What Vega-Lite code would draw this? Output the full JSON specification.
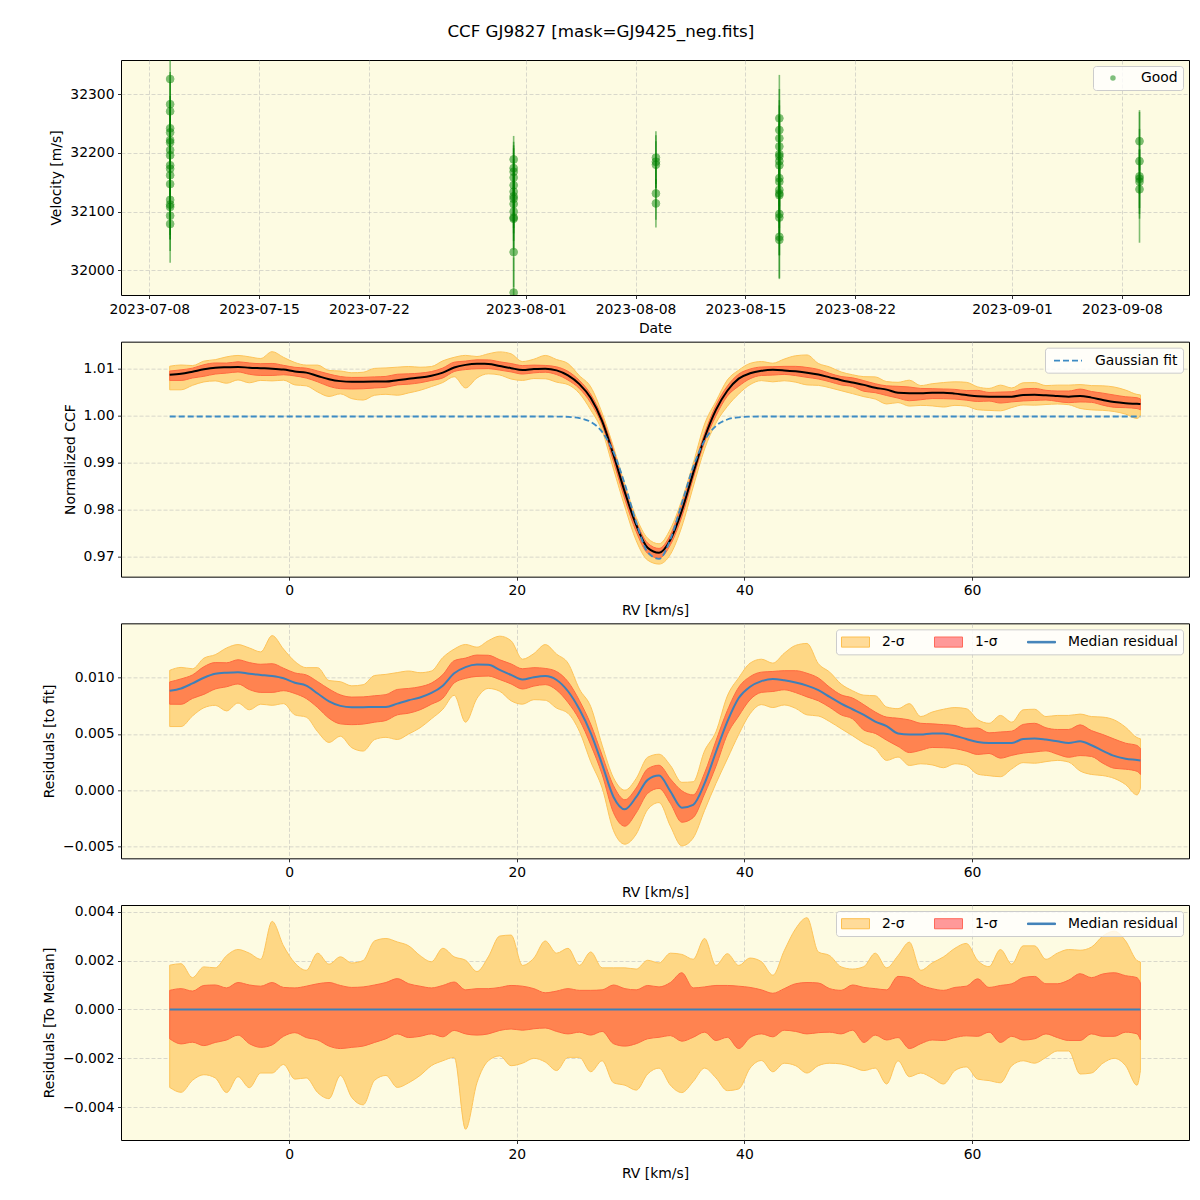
{
"$schema": "https://vega.github.io/schema/vega-lite/v6.json",
"padding": {"left": 42, "top": 23, "right": 12, "bottom": 10},
"background": "white",
"title": {"text": "CCF GJ9827 [mask=GJ9425_neg.fits]", "fontSize": 16.7, "font": "DejaVu Sans", "fontWeight": "normal", "offset": 19, "anchor": "middle", "color": "black", "dx": -15},
"config": {
  "font": "DejaVu Sans",
  "view": {"stroke": "black", "strokeWidth": 1, "fill": "#FDFBE2"},
  "axis": {"labelFont": "DejaVu Sans", "labelFontSize": 13.9, "labelColor": "black", "titleFont": "DejaVu Sans", "titleFontSize": 13.9, "titleFontWeight": "normal", "titleColor": "black", "tickColor": "black", "tickSize": 3.5, "tickWidth": 0.8, "labelPadding": 3.5, "titlePadding": 6, "domain": false, "grid": true, "gridColor": "#b0b0b0", "gridOpacity": 0.6, "gridDash": [4, 2], "gridWidth": 0.8, "zindex": 1, "labelFlush": false, "labelOverlap": false},
  "legend": {"labelFont": "DejaVu Sans", "labelFontSize": 13.9, "labelColor": "black", "fillColor": "rgba(255,255,255,0.8)", "strokeColor": "#cccccc", "cornerRadius": 3, "padding": 5, "orient": "top-right", "offset": 6}
},
"datasets": {
"rvs": [
{"date":"2023-07-09T08:00:00Z","vel":32326,"lo":32276,"hi":32376},
{"date":"2023-07-09T08:00:00Z","vel":32283,"lo":32228,"hi":32338},
{"date":"2023-07-09T08:00:00Z","vel":32271,"lo":32221,"hi":32321},
{"date":"2023-07-09T08:00:00Z","vel":32242,"lo":32187,"hi":32297},
{"date":"2023-07-09T08:00:00Z","vel":32235,"lo":32180,"hi":32290},
{"date":"2023-07-09T08:00:00Z","vel":32222,"lo":32162,"hi":32282},
{"date":"2023-07-09T08:00:00Z","vel":32218,"lo":32163,"hi":32273},
{"date":"2023-07-09T08:00:00Z","vel":32205,"lo":32145,"hi":32265},
{"date":"2023-07-09T08:00:00Z","vel":32196,"lo":32141,"hi":32251},
{"date":"2023-07-09T08:00:00Z","vel":32179,"lo":32119,"hi":32239},
{"date":"2023-07-09T08:00:00Z","vel":32173,"lo":32118,"hi":32228},
{"date":"2023-07-09T08:00:00Z","vel":32162,"lo":32102,"hi":32222},
{"date":"2023-07-09T08:00:00Z","vel":32147,"lo":32092,"hi":32202},
{"date":"2023-07-09T08:00:00Z","vel":32120,"lo":32060,"hi":32180},
{"date":"2023-07-09T08:00:00Z","vel":32112,"lo":32052,"hi":32172},
{"date":"2023-07-09T08:00:00Z","vel":32108,"lo":32053,"hi":32163},
{"date":"2023-07-09T08:00:00Z","vel":32093,"lo":32033,"hi":32153},
{"date":"2023-07-09T08:00:00Z","vel":32079,"lo":32013,"hi":32145},
{"date":"2023-07-31T05:30:00Z","vel":32189,"lo":32149,"hi":32229},
{"date":"2023-07-31T05:30:00Z","vel":32174,"lo":32129,"hi":32219},
{"date":"2023-07-31T05:30:00Z","vel":32168,"lo":32123,"hi":32213},
{"date":"2023-07-31T05:30:00Z","vel":32158,"lo":32108,"hi":32208},
{"date":"2023-07-31T05:30:00Z","vel":32145,"lo":32100,"hi":32190},
{"date":"2023-07-31T05:30:00Z","vel":32134,"lo":32084,"hi":32184},
{"date":"2023-07-31T05:30:00Z","vel":32126,"lo":32081,"hi":32171},
{"date":"2023-07-31T05:30:00Z","vel":32122,"lo":32072,"hi":32172},
{"date":"2023-07-31T05:30:00Z","vel":32113,"lo":32063,"hi":32163},
{"date":"2023-07-31T05:30:00Z","vel":32100,"lo":32050,"hi":32150},
{"date":"2023-07-31T05:30:00Z","vel":32090,"lo":32035,"hi":32145},
{"date":"2023-07-31T05:30:00Z","vel":32088,"lo":32038,"hi":32138},
{"date":"2023-07-31T05:30:00Z","vel":32031,"lo":31971,"hi":32091},
{"date":"2023-07-31T05:30:00Z","vel":31962,"lo":31902,"hi":32022},
{"date":"2023-08-09T07:10:00Z","vel":32192,"lo":32147,"hi":32237},
{"date":"2023-08-09T07:10:00Z","vel":32185,"lo":32140,"hi":32230},
{"date":"2023-08-09T07:10:00Z","vel":32180,"lo":32140,"hi":32220},
{"date":"2023-08-09T07:10:00Z","vel":32131,"lo":32086,"hi":32176},
{"date":"2023-08-09T07:10:00Z","vel":32114,"lo":32073,"hi":32155},
{"date":"2023-08-17T04:00:00Z","vel":32259,"lo":32185,"hi":32333},
{"date":"2023-08-17T04:00:00Z","vel":32239,"lo":32169,"hi":32309},
{"date":"2023-08-17T04:00:00Z","vel":32225,"lo":32160,"hi":32290},
{"date":"2023-08-17T04:00:00Z","vel":32211,"lo":32141,"hi":32281},
{"date":"2023-08-17T04:00:00Z","vel":32198,"lo":32133,"hi":32263},
{"date":"2023-08-17T04:00:00Z","vel":32194,"lo":32124,"hi":32264},
{"date":"2023-08-17T04:00:00Z","vel":32186,"lo":32121,"hi":32251},
{"date":"2023-08-17T04:00:00Z","vel":32179,"lo":32109,"hi":32249},
{"date":"2023-08-17T04:00:00Z","vel":32157,"lo":32092,"hi":32222},
{"date":"2023-08-17T04:00:00Z","vel":32151,"lo":32081,"hi":32221},
{"date":"2023-08-17T04:00:00Z","vel":32137,"lo":32072,"hi":32202},
{"date":"2023-08-17T04:00:00Z","vel":32131,"lo":32061,"hi":32201},
{"date":"2023-08-17T04:00:00Z","vel":32128,"lo":32063,"hi":32193},
{"date":"2023-08-17T04:00:00Z","vel":32096,"lo":32026,"hi":32166},
{"date":"2023-08-17T04:00:00Z","vel":32090,"lo":32025,"hi":32155},
{"date":"2023-08-17T04:00:00Z","vel":32057,"lo":31987,"hi":32127},
{"date":"2023-08-17T04:00:00Z","vel":32052,"lo":31985,"hi":32119},
{"date":"2023-09-09T03:00:00Z","vel":32220,"lo":32170,"hi":32270},
{"date":"2023-09-09T03:00:00Z","vel":32186,"lo":32131,"hi":32241},
{"date":"2023-09-09T03:00:00Z","vel":32160,"lo":32047,"hi":32273},
{"date":"2023-09-09T03:00:00Z","vel":32156,"lo":32106,"hi":32206},
{"date":"2023-09-09T03:00:00Z","vel":32151,"lo":32096,"hi":32206},
{"date":"2023-09-09T03:00:00Z","vel":32138,"lo":32088,"hi":32188}
],
"bands": [{"item": "2-σ"}, {"item": "1-σ"}, {"item": "Median residual"}],
"ccf": [
{"rv":-10.5,"fit":0.99979,"ccf":1.00864,"cl1":1.00744,"ch1":1.00942,"cl2":1.00545,"ch2":1.01045,"res":0.00885,"rl1":0.00765,"rh1":0.00963,"rl2":0.00566,"rh2":0.01066,"dl1":-0.0012,"dh1":0.00078,"dl2":-0.00319,"dh2":0.00181},
{"rv":-9.5,"fit":0.99979,"ccf":1.00884,"cl1":1.00743,"ch1":1.00969,"cl2":1.00545,"ch2":1.01071,"res":0.00905,"rl1":0.00764,"rh1":0.0099,"rl2":0.00566,"rh2":0.01092,"dl1":-0.00141,"dh1":0.00085,"dl2":-0.00339,"dh2":0.00187},
{"rv":-8.5,"fit":0.99979,"ccf":1.00929,"cl1":1.00795,"ch1":1.01004,"cl2":1.00639,"ch2":1.01059,"res":0.0095,"rl1":0.00816,"rh1":0.01025,"rl2":0.0066,"rh2":0.0108,"dl1":-0.00134,"dh1":0.00075,"dl2":-0.0029,"dh2":0.0013},
{"rv":-7.5,"fit":0.99979,"ccf":1.00979,"cl1":1.00831,"ch1":1.01077,"cl2":1.00712,"ch2":1.01153,"res":0.01,"rl1":0.00852,"rh1":0.01098,"rl2":0.00733,"rh2":0.01174,"dl1":-0.00148,"dh1":0.00098,"dl2":-0.00267,"dh2":0.00174},
{"rv":-6.5,"fit":0.99979,"ccf":1.01014,"cl1":1.00879,"ch1":1.01114,"cl2":1.00734,"ch2":1.01184,"res":0.01035,"rl1":0.009,"rh1":0.01135,"rl2":0.00755,"rh2":0.01205,"dl1":-0.00135,"dh1":0.001,"dl2":-0.0028,"dh2":0.0017},
{"rv":-5.5,"fit":0.99979,"ccf":1.01024,"cl1":1.00899,"ch1":1.01112,"cl2":1.00684,"ch2":1.01244,"res":0.01045,"rl1":0.0092,"rh1":0.01133,"rl2":0.00705,"rh2":0.01265,"dl1":-0.00125,"dh1":0.00088,"dl2":-0.0034,"dh2":0.0022},
{"rv":-4.5,"fit":0.99979,"ccf":1.01029,"cl1":1.00924,"ch1":1.01139,"cl2":1.00754,"ch2":1.01274,"res":0.0105,"rl1":0.00945,"rh1":0.0116,"rl2":0.00775,"rh2":0.01295,"dl1":-0.00105,"dh1":0.0011,"dl2":-0.00275,"dh2":0.00245},
{"rv":-3.5,"fit":0.99979,"ccf":1.01014,"cl1":1.00874,"ch1":1.01114,"cl2":1.00694,"ch2":1.01244,"res":0.01035,"rl1":0.00895,"rh1":0.01135,"rl2":0.00715,"rh2":0.01265,"dl1":-0.0014,"dh1":0.001,"dl2":-0.0032,"dh2":0.0023},
{"rv":-2.5,"fit":0.99979,"ccf":1.01004,"cl1":1.00849,"ch1":1.01099,"cl2":1.00744,"ch2":1.01209,"res":0.01025,"rl1":0.0087,"rh1":0.0112,"rl2":0.00765,"rh2":0.0123,"dl1":-0.00155,"dh1":0.00095,"dl2":-0.0026,"dh2":0.00205},
{"rv":-1.5,"fit":0.99979,"ccf":1.00994,"cl1":1.00849,"ch1":1.01104,"cl2":1.00734,"ch2":1.01354,"res":0.01015,"rl1":0.0087,"rh1":0.01125,"rl2":0.00755,"rh2":0.01375,"dl1":-0.00145,"dh1":0.0011,"dl2":-0.0026,"dh2":0.0036},
{"rv":-0.5,"fit":0.99979,"ccf":1.00974,"cl1":1.00864,"ch1":1.01064,"cl2":1.00749,"ch2":1.01234,"res":0.00995,"rl1":0.00885,"rh1":0.01085,"rl2":0.0077,"rh2":0.01255,"dl1":-0.0011,"dh1":0.0009,"dl2":-0.00225,"dh2":0.0026},
{"rv":0.5,"fit":0.99979,"ccf":1.00934,"cl1":1.00839,"ch1":1.01022,"cl2":1.00649,"ch2":1.01124,"res":0.00955,"rl1":0.0086,"rh1":0.01043,"rl2":0.0067,"rh2":0.01145,"dl1":-0.00095,"dh1":0.00088,"dl2":-0.00285,"dh2":0.0019},
{"rv":1.5,"fit":0.99979,"ccf":1.00909,"cl1":1.00794,"ch1":1.01004,"cl2":1.00629,"ch2":1.01069,"res":0.0093,"rl1":0.00815,"rh1":0.01025,"rl2":0.0065,"rh2":0.0109,"dl1":-0.00115,"dh1":0.00095,"dl2":-0.0028,"dh2":0.0016},
{"rv":2.5,"fit":0.99979,"ccf":1.00839,"cl1":1.00714,"ch1":1.00944,"cl2":1.00499,"ch2":1.01069,"res":0.0086,"rl1":0.00735,"rh1":0.00965,"rl2":0.0052,"rh2":0.0109,"dl1":-0.00125,"dh1":0.00105,"dl2":-0.0034,"dh2":0.0023},
{"rv":3.5,"fit":0.99979,"ccf":1.00769,"cl1":1.00619,"ch1":1.00879,"cl2":1.00404,"ch2":1.00954,"res":0.0079,"rl1":0.0064,"rh1":0.009,"rl2":0.00425,"rh2":0.00975,"dl1":-0.0015,"dh1":0.0011,"dl2":-0.00365,"dh2":0.00185},
{"rv":4.5,"fit":0.99979,"ccf":1.00729,"cl1":1.00569,"ch1":1.00827,"cl2":1.00459,"ch2":1.00944,"res":0.0075,"rl1":0.0059,"rh1":0.00848,"rl2":0.0048,"rh2":0.00965,"dl1":-0.0016,"dh1":0.00098,"dl2":-0.0027,"dh2":0.00215},
{"rv":5.5,"fit":0.99979,"ccf":1.00717,"cl1":1.00562,"ch1":1.00807,"cl2":1.00357,"ch2":1.00907,"res":0.00738,"rl1":0.00583,"rh1":0.00828,"rl2":0.00378,"rh2":0.00928,"dl1":-0.00155,"dh1":0.0009,"dl2":-0.0036,"dh2":0.0019},
{"rv":6.5,"fit":0.99979,"ccf":1.00717,"cl1":1.00567,"ch1":1.00809,"cl2":1.00327,"ch2":1.00917,"res":0.00738,"rl1":0.00588,"rh1":0.0083,"rl2":0.00348,"rh2":0.00938,"dl1":-0.0015,"dh1":0.00092,"dl2":-0.0039,"dh2":0.002},
{"rv":7.5,"fit":0.99979,"ccf":1.00719,"cl1":1.00584,"ch1":1.00819,"cl2":1.00429,"ch2":1.00999,"res":0.0074,"rl1":0.00605,"rh1":0.0084,"rl2":0.0045,"rh2":0.0102,"dl1":-0.00135,"dh1":0.001,"dl2":-0.0029,"dh2":0.0028},
{"rv":8.5,"fit":0.99979,"ccf":1.00719,"cl1":1.00599,"ch1":1.00829,"cl2":1.00449,"ch2":1.01009,"res":0.0074,"rl1":0.0062,"rh1":0.0085,"rl2":0.0047,"rh2":0.0103,"dl1":-0.0012,"dh1":0.0011,"dl2":-0.0027,"dh2":0.0029},
{"rv":9.5,"fit":0.99979,"ccf":1.00749,"cl1":1.00649,"ch1":1.00875,"cl2":1.0043,"ch2":1.01025,"res":0.0077,"rl1":0.0067,"rh1":0.00896,"rl2":0.00451,"rh2":0.01046,"dl1":-0.001,"dh1":0.00126,"dl2":-0.00319,"dh2":0.00276},
{"rv":10.5,"fit":0.99979,"ccf":1.00779,"cl1":1.00664,"ch1":1.00884,"cl2":1.00479,"ch2":1.01039,"res":0.008,"rl1":0.00685,"rh1":0.00905,"rl2":0.005,"rh2":0.0106,"dl1":-0.00115,"dh1":0.00105,"dl2":-0.003,"dh2":0.0026},
{"rv":11.5,"fit":0.99979,"ccf":1.00804,"cl1":1.00694,"ch1":1.00899,"cl2":1.00534,"ch2":1.01024,"res":0.00825,"rl1":0.00715,"rh1":0.0092,"rl2":0.00555,"rh2":0.01045,"dl1":-0.0011,"dh1":0.00095,"dl2":-0.0027,"dh2":0.0022},
{"rv":12.5,"fit":0.99979,"ccf":1.00844,"cl1":1.00744,"ch1":1.00932,"cl2":1.00614,"ch2":1.01039,"res":0.00865,"rl1":0.00765,"rh1":0.00953,"rl2":0.00635,"rh2":0.0106,"dl1":-0.001,"dh1":0.00088,"dl2":-0.0023,"dh2":0.00195},
{"rv":13.5,"fit":0.99979,"ccf":1.00909,"cl1":1.00797,"ch1":1.01007,"cl2":1.00699,"ch2":1.01159,"res":0.0093,"rl1":0.00818,"rh1":0.01028,"rl2":0.0072,"rh2":0.0118,"dl1":-0.00112,"dh1":0.00098,"dl2":-0.0021,"dh2":0.0025},
{"rv":14.5,"fit":0.99979,"ccf":1.01019,"cl1":1.00933,"ch1":1.01131,"cl2":1.00823,"ch2":1.01234,"res":0.0104,"rl1":0.00954,"rh1":0.01152,"rl2":0.00844,"rh2":0.01255,"dl1":-0.00086,"dh1":0.00112,"dl2":-0.00196,"dh2":0.00215},
{"rv":15.5,"fit":0.99979,"ccf":1.01074,"cl1":1.00974,"ch1":1.01154,"cl2":1.00584,"ch2":1.01275,"res":0.01095,"rl1":0.00995,"rh1":0.01175,"rl2":0.00605,"rh2":0.01296,"dl1":-0.001,"dh1":0.0008,"dl2":-0.0049,"dh2":0.00201},
{"rv":16.5,"fit":0.99979,"ccf":1.01096,"cl1":1.00991,"ch1":1.01181,"cl2":1.00796,"ch2":1.01251,"res":0.01117,"rl1":0.01012,"rh1":0.01202,"rl2":0.00817,"rh2":0.01272,"dl1":-0.00105,"dh1":0.00085,"dl2":-0.003,"dh2":0.00155},
{"rv":17.5,"fit":0.99979,"ccf":1.01094,"cl1":1.00994,"ch1":1.01179,"cl2":1.00884,"ch2":1.01309,"res":0.01115,"rl1":0.01015,"rh1":0.012,"rl2":0.00905,"rh2":0.0133,"dl1":-0.001,"dh1":0.00085,"dl2":-0.0021,"dh2":0.00215},
{"rv":18.5,"fit":0.99979,"ccf":1.01049,"cl1":1.00963,"ch1":1.01139,"cl2":1.00859,"ch2":1.01349,"res":0.0107,"rl1":0.00984,"rh1":0.0116,"rl2":0.0088,"rh2":0.0137,"dl1":-0.00086,"dh1":0.0009,"dl2":-0.0019,"dh2":0.003},
{"rv":19.5,"fit":0.99979,"ccf":1.01004,"cl1":1.00924,"ch1":1.01102,"cl2":1.00774,"ch2":1.01308,"res":0.01025,"rl1":0.00945,"rh1":0.01123,"rl2":0.00795,"rh2":0.01329,"dl1":-0.0008,"dh1":0.00098,"dl2":-0.0023,"dh2":0.00304},
{"rv":20.5,"fit":0.99979,"ccf":1.00964,"cl1":1.00879,"ch1":1.01059,"cl2":1.00744,"ch2":1.01144,"res":0.00985,"rl1":0.009,"rh1":0.0108,"rl2":0.00765,"rh2":0.01165,"dl1":-0.00085,"dh1":0.00095,"dl2":-0.0022,"dh2":0.0018},
{"rv":21.5,"fit":0.99979,"ccf":1.00984,"cl1":1.00905,"ch1":1.01069,"cl2":1.00784,"ch2":1.01194,"res":0.01005,"rl1":0.00926,"rh1":0.0109,"rl2":0.00805,"rh2":0.01215,"dl1":-0.00079,"dh1":0.00085,"dl2":-0.002,"dh2":0.0021},
{"rv":22.5,"fit":0.99979,"ccf":1.00994,"cl1":1.00918,"ch1":1.01062,"cl2":1.00779,"ch2":1.01274,"res":0.01015,"rl1":0.00939,"rh1":0.01083,"rl2":0.008,"rh2":0.01295,"dl1":-0.00076,"dh1":0.00068,"dl2":-0.00215,"dh2":0.0028},
{"rv":23.5,"fit":0.99977,"ccf":1.00957,"cl1":1.00867,"ch1":1.01032,"cl2":1.00707,"ch2":1.01187,"res":0.0098,"rl1":0.0089,"rh1":0.01055,"rl2":0.0073,"rh2":0.0121,"dl1":-0.0009,"dh1":0.00075,"dl2":-0.0025,"dh2":0.0023},
{"rv":24.5,"fit":0.99971,"ccf":1.00851,"cl1":1.00751,"ch1":1.00936,"cl2":1.00655,"ch2":1.01101,"res":0.0088,"rl1":0.0078,"rh1":0.00965,"rl2":0.00684,"rh2":0.0113,"dl1":-0.001,"dh1":0.00085,"dl2":-0.00196,"dh2":0.0025},
{"rv":25.5,"fit":0.99945,"ccf":1.00665,"cl1":1.00572,"ch1":1.00743,"cl2":1.00469,"ch2":1.00845,"res":0.0072,"rl1":0.00627,"rh1":0.00798,"rl2":0.00524,"rh2":0.009,"dl1":-0.00093,"dh1":0.00078,"dl2":-0.00196,"dh2":0.0018},
{"rv":26.5,"fit":0.99863,"ccf":1.00371,"cl1":1.00266,"ch1":1.00449,"cl2":1.00116,"ch2":1.00606,"res":0.00508,"rl1":0.00403,"rh1":0.00586,"rl2":0.00253,"rh2":0.00743,"dl1":-0.00105,"dh1":0.00078,"dl2":-0.00255,"dh2":0.00235},
{"rv":27.5,"fit":0.99652,"ccf":0.99882,"cl1":0.99792,"ch1":0.99962,"cl2":0.99672,"ch2":1.00052,"res":0.0023,"rl1":0.0014,"rh1":0.0031,"rl2":0.0002,"rh2":0.004,"dl1":-0.0009,"dh1":0.0008,"dl2":-0.0021,"dh2":0.0017},
{"rv":28.5,"fit":0.99221,"ccf":0.99161,"cl1":0.99021,"ch1":0.99261,"cl2":0.98861,"ch2":0.99331,"res":-0.0006,"rl1":-0.002,"rh1":0.0004,"rl2":-0.0036,"rh2":0.0011,"dl1":-0.0014,"dh1":0.001,"dl2":-0.003,"dh2":0.0017},
{"rv":29.5,"fit":0.98539,"ccf":0.98369,"cl1":0.98219,"ch1":0.98454,"cl2":0.98059,"ch2":0.98539,"res":-0.0017,"rl1":-0.0032,"rh1":-0.00085,"rl2":-0.0048,"rh2":0.0,"dl1":-0.0015,"dh1":0.00085,"dl2":-0.0031,"dh2":0.0017},
{"rv":30.5,"fit":0.97732,"ccf":0.97672,"cl1":0.97532,"ch1":0.97752,"cl2":0.97342,"ch2":0.97837,"res":-0.0006,"rl1":-0.002,"rh1":0.0002,"rl2":-0.0039,"rh2":0.00105,"dl1":-0.0014,"dh1":0.0008,"dl2":-0.0033,"dh2":0.00165},
{"rv":31.5,"fit":0.97103,"ccf":0.97195,"cl1":0.97075,"ch1":0.97293,"cl2":0.96931,"ch2":0.97396,"res":0.00092,"rl1":-0.00028,"rh1":0.0019,"rl2":-0.00172,"rh2":0.00293,"dl1":-0.0012,"dh1":0.00098,"dl2":-0.00264,"dh2":0.00201},
{"rv":32.5,"fit":0.96958,"ccf":0.97088,"cl1":0.96974,"ch1":0.9718,"cl2":0.96848,"ch2":0.97278,"res":0.0013,"rl1":0.00016,"rh1":0.00222,"rl2":-0.0011,"rh2":0.0032,"dl1":-0.00114,"dh1":0.00092,"dl2":-0.0024,"dh2":0.0019},
{"rv":33.5,"fit":0.97374,"ccf":0.97364,"cl1":0.97257,"ch1":0.97474,"cl2":0.97054,"ch2":0.97594,"res":-0.0001,"rl1":-0.00117,"rh1":0.001,"rl2":-0.0032,"rh2":0.0022,"dl1":-0.00107,"dh1":0.0011,"dl2":-0.0031,"dh2":0.0023},
{"rv":34.5,"fit":0.98135,"ccf":0.9798,"cl1":0.9785,"ch1":0.9813,"cl2":0.9764,"ch2":0.98205,"res":-0.00155,"rl1":-0.00285,"rh1":-0.00005,"rl2":-0.00495,"rh2":0.0007,"dl1":-0.0013,"dh1":0.0015,"dl2":-0.0034,"dh2":0.00225},
{"rv":35.5,"fit":0.98908,"ccf":0.98778,"cl1":0.98664,"ch1":0.98866,"cl2":0.98483,"ch2":0.98983,"res":-0.0013,"rl1":-0.00244,"rh1":-0.00042,"rl2":-0.00425,"rh2":0.00075,"dl1":-0.00114,"dh1":0.00088,"dl2":-0.00295,"dh2":0.00205},
{"rv":36.5,"fit":0.99468,"ccf":0.99528,"cl1":0.99435,"ch1":0.9962,"cl2":0.99288,"ch2":0.99818,"res":0.0006,"rl1":-0.00033,"rh1":0.00152,"rl2":-0.0018,"rh2":0.0035,"dl1":-0.00093,"dh1":0.00092,"dl2":-0.0024,"dh2":0.0029},
{"rv":37.5,"fit":0.99779,"ccf":1.00119,"cl1":0.99992,"ch1":1.00217,"cl2":0.99839,"ch2":1.00299,"res":0.0034,"rl1":0.00213,"rh1":0.00438,"rl2":0.0006,"rh2":0.0052,"dl1":-0.00127,"dh1":0.00098,"dl2":-0.0028,"dh2":0.0018},
{"rv":38.5,"fit":0.99915,"ccf":1.00525,"cl1":1.00411,"ch1":1.00623,"cl2":1.00193,"ch2":1.00753,"res":0.0061,"rl1":0.00496,"rh1":0.00708,"rl2":0.00278,"rh2":0.00838,"dl1":-0.00114,"dh1":0.00098,"dl2":-0.00332,"dh2":0.00228},
{"rv":39.5,"fit":0.99962,"ccf":1.00782,"cl1":1.00622,"ch1":1.00877,"cl2":1.00457,"ch2":1.00962,"res":0.0082,"rl1":0.0066,"rh1":0.00915,"rl2":0.00495,"rh2":0.01,"dl1":-0.0016,"dh1":0.00095,"dl2":-0.00325,"dh2":0.0018},
{"rv":40.5,"fit":0.99975,"ccf":1.00895,"cl1":1.0078,"ch1":1.00985,"cl2":1.00655,"ch2":1.01105,"res":0.0092,"rl1":0.00805,"rh1":0.0101,"rl2":0.0068,"rh2":0.0113,"dl1":-0.00115,"dh1":0.0009,"dl2":-0.0024,"dh2":0.0021},
{"rv":41.5,"fit":0.99979,"ccf":1.00949,"cl1":1.00849,"ch1":1.01029,"cl2":1.0074,"ch2":1.01144,"res":0.0097,"rl1":0.0087,"rh1":0.0105,"rl2":0.00761,"rh2":0.01165,"dl1":-0.001,"dh1":0.0008,"dl2":-0.00209,"dh2":0.00195},
{"rv":42.5,"fit":0.99979,"ccf":1.00969,"cl1":1.00857,"ch1":1.01035,"cl2":1.00714,"ch2":1.01109,"res":0.0099,"rl1":0.00878,"rh1":0.01056,"rl2":0.00735,"rh2":0.0113,"dl1":-0.00112,"dh1":0.00066,"dl2":-0.00255,"dh2":0.0014},
{"rv":43.5,"fit":0.99979,"ccf":1.00957,"cl1":1.00872,"ch1":1.01042,"cl2":1.00737,"ch2":1.01197,"res":0.00978,"rl1":0.00893,"rh1":0.01063,"rl2":0.00758,"rh2":0.01218,"dl1":-0.00085,"dh1":0.00085,"dl2":-0.0022,"dh2":0.0024},
{"rv":44.5,"fit":0.99979,"ccf":1.00937,"cl1":1.00847,"ch1":1.01042,"cl2":1.00707,"ch2":1.01267,"res":0.00958,"rl1":0.00868,"rh1":0.01063,"rl2":0.00728,"rh2":0.01288,"dl1":-0.0009,"dh1":0.00105,"dl2":-0.0023,"dh2":0.0033},
{"rv":45.5,"fit":0.99979,"ccf":1.00909,"cl1":1.00809,"ch1":1.01019,"cl2":1.00649,"ch2":1.01284,"res":0.0093,"rl1":0.0083,"rh1":0.0104,"rl2":0.0067,"rh2":0.01305,"dl1":-0.001,"dh1":0.0011,"dl2":-0.0026,"dh2":0.00375},
{"rv":46.5,"fit":0.99979,"ccf":1.00869,"cl1":1.00774,"ch1":1.00977,"cl2":1.00639,"ch2":1.01104,"res":0.0089,"rl1":0.00795,"rh1":0.00998,"rl2":0.0066,"rh2":0.01125,"dl1":-0.00095,"dh1":0.00108,"dl2":-0.0023,"dh2":0.00235},
{"rv":47.5,"fit":0.99979,"ccf":1.00809,"cl1":1.00716,"ch1":1.00894,"cl2":1.00589,"ch2":1.01029,"res":0.0083,"rl1":0.00737,"rh1":0.00915,"rl2":0.0061,"rh2":0.0105,"dl1":-0.00093,"dh1":0.00085,"dl2":-0.0022,"dh2":0.0022},
{"rv":48.5,"fit":0.99979,"ccf":1.00749,"cl1":1.00649,"ch1":1.00827,"cl2":1.00526,"ch2":1.00923,"res":0.0077,"rl1":0.0067,"rh1":0.00848,"rl2":0.00547,"rh2":0.00944,"dl1":-0.001,"dh1":0.00078,"dl2":-0.00223,"dh2":0.00174},
{"rv":49.5,"fit":0.99979,"ccf":1.00699,"cl1":1.00614,"ch1":1.00799,"cl2":1.00464,"ch2":1.00864,"res":0.0072,"rl1":0.00635,"rh1":0.0082,"rl2":0.00485,"rh2":0.00885,"dl1":-0.00085,"dh1":0.001,"dl2":-0.00235,"dh2":0.00165},
{"rv":50.5,"fit":0.99979,"ccf":1.00649,"cl1":1.00514,"ch1":1.00739,"cl2":1.00399,"ch2":1.00824,"res":0.0067,"rl1":0.00535,"rh1":0.0076,"rl2":0.0042,"rh2":0.00845,"dl1":-0.00135,"dh1":0.0009,"dl2":-0.0025,"dh2":0.00175},
{"rv":51.5,"fit":0.99979,"ccf":1.00589,"cl1":1.00484,"ch1":1.00674,"cl2":1.00349,"ch2":1.00819,"res":0.0061,"rl1":0.00505,"rh1":0.00695,"rl2":0.0037,"rh2":0.0084,"dl1":-0.00105,"dh1":0.00085,"dl2":-0.0024,"dh2":0.0023},
{"rv":52.5,"fit":0.99979,"ccf":1.00549,"cl1":1.00424,"ch1":1.00629,"cl2":1.00244,"ch2":1.00719,"res":0.0057,"rl1":0.00445,"rh1":0.0065,"rl2":0.00265,"rh2":0.0074,"dl1":-0.00125,"dh1":0.0008,"dl2":-0.00305,"dh2":0.0017},
{"rv":53.5,"fit":0.99979,"ccf":1.00484,"cl1":1.00369,"ch1":1.00619,"cl2":1.00274,"ch2":1.00704,"res":0.00505,"rl1":0.0039,"rh1":0.0064,"rl2":0.00295,"rh2":0.00725,"dl1":-0.00115,"dh1":0.00135,"dl2":-0.0021,"dh2":0.0022},
{"rv":54.5,"fit":0.99979,"ccf":1.00474,"cl1":1.00314,"ch1":1.00604,"cl2":1.00199,"ch2":1.00749,"res":0.00495,"rl1":0.00335,"rh1":0.00625,"rl2":0.0022,"rh2":0.0077,"dl1":-0.0016,"dh1":0.0013,"dl2":-0.00275,"dh2":0.00275},
{"rv":55.5,"fit":0.99979,"ccf":1.00474,"cl1":1.00334,"ch1":1.00574,"cl2":1.00214,"ch2":1.00634,"res":0.00495,"rl1":0.00355,"rh1":0.00595,"rl2":0.00235,"rh2":0.00655,"dl1":-0.0014,"dh1":0.001,"dl2":-0.0026,"dh2":0.0016},
{"rv":56.5,"fit":0.99979,"ccf":1.00484,"cl1":1.00359,"ch1":1.00569,"cl2":1.00204,"ch2":1.00674,"res":0.00505,"rl1":0.0038,"rh1":0.0059,"rl2":0.00225,"rh2":0.00695,"dl1":-0.00125,"dh1":0.00085,"dl2":-0.0028,"dh2":0.0019},
{"rv":57.5,"fit":0.99979,"ccf":1.00484,"cl1":1.00357,"ch1":1.00562,"cl2":1.00179,"ch2":1.00699,"res":0.00505,"rl1":0.00378,"rh1":0.00583,"rl2":0.002,"rh2":0.0072,"dl1":-0.00127,"dh1":0.00078,"dl2":-0.00305,"dh2":0.00215},
{"rv":58.5,"fit":0.99979,"ccf":1.00464,"cl1":1.00349,"ch1":1.00554,"cl2":1.00214,"ch2":1.00714,"res":0.00485,"rl1":0.0037,"rh1":0.00575,"rl2":0.00235,"rh2":0.00735,"dl1":-0.00115,"dh1":0.0009,"dl2":-0.0025,"dh2":0.0025},
{"rv":59.5,"fit":0.99979,"ccf":1.00434,"cl1":1.00326,"ch1":1.00529,"cl2":1.00199,"ch2":1.00704,"res":0.00455,"rl1":0.00347,"rh1":0.0055,"rl2":0.0022,"rh2":0.00725,"dl1":-0.00108,"dh1":0.00095,"dl2":-0.00235,"dh2":0.0027},
{"rv":60.5,"fit":0.99979,"ccf":1.00407,"cl1":1.00297,"ch1":1.00532,"cl2":1.00122,"ch2":1.00607,"res":0.00428,"rl1":0.00318,"rh1":0.00553,"rl2":0.00143,"rh2":0.00628,"dl1":-0.0011,"dh1":0.00125,"dl2":-0.00285,"dh2":0.002},
{"rv":61.5,"fit":0.99979,"ccf":1.00399,"cl1":1.00306,"ch1":1.00489,"cl2":1.00108,"ch2":1.00574,"res":0.0042,"rl1":0.00327,"rh1":0.0051,"rl2":0.00129,"rh2":0.00595,"dl1":-0.00093,"dh1":0.0009,"dl2":-0.00291,"dh2":0.00175},
{"rv":62.5,"fit":0.99979,"ccf":1.00399,"cl1":1.00264,"ch1":1.00497,"cl2":1.00099,"ch2":1.00644,"res":0.0042,"rl1":0.00285,"rh1":0.00518,"rl2":0.0012,"rh2":0.00665,"dl1":-0.00135,"dh1":0.00098,"dl2":-0.003,"dh2":0.00245},
{"rv":63.5,"fit":0.99979,"ccf":1.00399,"cl1":1.00289,"ch1":1.00504,"cl2":1.00169,"ch2":1.00584,"res":0.0042,"rl1":0.0031,"rh1":0.00525,"rl2":0.0019,"rh2":0.00605,"dl1":-0.0011,"dh1":0.00105,"dl2":-0.0023,"dh2":0.00185},
{"rv":64.5,"fit":0.99979,"ccf":1.00434,"cl1":1.00309,"ch1":1.00564,"cl2":1.00224,"ch2":1.00694,"res":0.00455,"rl1":0.0033,"rh1":0.00585,"rl2":0.00245,"rh2":0.00715,"dl1":-0.00125,"dh1":0.0013,"dl2":-0.0021,"dh2":0.0026},
{"rv":65.5,"fit":0.99979,"ccf":1.00439,"cl1":1.00319,"ch1":1.00574,"cl2":1.00219,"ch2":1.00699,"res":0.0046,"rl1":0.0034,"rh1":0.00595,"rl2":0.0024,"rh2":0.0072,"dl1":-0.0012,"dh1":0.00135,"dl2":-0.0022,"dh2":0.0026},
{"rv":66.5,"fit":0.99979,"ccf":1.00429,"cl1":1.00329,"ch1":1.00534,"cl2":1.00233,"ch2":1.00634,"res":0.0045,"rl1":0.0035,"rh1":0.00555,"rl2":0.00254,"rh2":0.00655,"dl1":-0.001,"dh1":0.00105,"dl2":-0.00196,"dh2":0.00205},
{"rv":67.5,"fit":0.99979,"ccf":1.00414,"cl1":1.00299,"ch1":1.00519,"cl2":1.00244,"ch2":1.00644,"res":0.00435,"rl1":0.0032,"rh1":0.0054,"rl2":0.00265,"rh2":0.00665,"dl1":-0.00115,"dh1":0.00105,"dl2":-0.0017,"dh2":0.0023},
{"rv":68.5,"fit":0.99979,"ccf":1.00399,"cl1":1.00272,"ch1":1.00519,"cl2":1.00229,"ch2":1.00644,"res":0.0042,"rl1":0.00293,"rh1":0.0054,"rl2":0.0025,"rh2":0.00665,"dl1":-0.00127,"dh1":0.0012,"dl2":-0.0017,"dh2":0.00245},
{"rv":69.5,"fit":0.99979,"ccf":1.00414,"cl1":1.00287,"ch1":1.0056,"cl2":1.0015,"ch2":1.00656,"res":0.00435,"rl1":0.00308,"rh1":0.00581,"rl2":0.00171,"rh2":0.00677,"dl1":-0.00127,"dh1":0.00146,"dl2":-0.00264,"dh2":0.00242},
{"rv":70.5,"fit":0.99979,"ccf":1.00379,"cl1":1.00279,"ch1":1.00509,"cl2":1.00119,"ch2":1.00634,"res":0.004,"rl1":0.003,"rh1":0.0053,"rl2":0.0014,"rh2":0.00655,"dl1":-0.001,"dh1":0.0013,"dl2":-0.0026,"dh2":0.00255},
{"rv":71.5,"fit":0.99979,"ccf":1.00329,"cl1":1.00219,"ch1":1.00474,"cl2":1.00109,"ch2":1.00629,"res":0.0035,"rl1":0.0024,"rh1":0.00495,"rl2":0.0013,"rh2":0.0065,"dl1":-0.0011,"dh1":0.00145,"dl2":-0.0022,"dh2":0.003},
{"rv":72.5,"fit":0.99979,"ccf":1.00284,"cl1":1.00174,"ch1":1.00434,"cl2":1.00084,"ch2":1.00604,"res":0.00305,"rl1":0.00195,"rh1":0.00455,"rl2":0.00105,"rh2":0.00625,"dl1":-0.0011,"dh1":0.0015,"dl2":-0.002,"dh2":0.0032},
{"rv":73.5,"fit":0.99979,"ccf":1.00259,"cl1":1.00166,"ch1":1.00397,"cl2":1.00029,"ch2":1.00539,"res":0.0028,"rl1":0.00187,"rh1":0.00418,"rl2":0.0005,"rh2":0.0056,"dl1":-0.00093,"dh1":0.00138,"dl2":-0.0023,"dh2":0.0028},
{"rv":74.5,"fit":0.99979,"ccf":1.00247,"cl1":1.00147,"ch1":1.00377,"cl2":0.99937,"ch2":1.00447,"res":0.00268,"rl1":0.00168,"rh1":0.00398,"rl2":-0.00042,"rh2":0.00468,"dl1":-0.001,"dh1":0.0013,"dl2":-0.0031,"dh2":0.002},
{"rv":74.8,"fit":0.99979,"ccf":1.00243,"cl1":1.00119,"ch1":1.00351,"cl2":0.99993,"ch2":1.00437,"res":0.00264,"rl1":0.0014,"rh1":0.00372,"rl2":0.00014,"rh2":0.00458,"dl1":-0.00124,"dh1":0.00108,"dl2":-0.0025,"dh2":0.00194}
]
},
"spacing": 46.67,
"bounds": "flush",
"resolve": {"scale": {"color": "independent"}, "legend": {"color": "independent"}},
"vconcat": [
{
  "width": 1068, "height": 235,
  "data": {"name": "rvs"},
  "encoding": {
    "x": {"field": "date", "type": "temporal", "title": "Date",
      "scale": {"type": "utc", "domain": [{"year": 2023, "month": 7, "date": 6, "hours": 4, "minutes": 48, "utc": true}, {"year": 2023, "month": 9, "date": 12, "hours": 6, "minutes": 43, "utc": true}], "nice": false},
      "axis": {"format": "%Y-%m-%d", "values": [
        {"year": 2023, "month": 7, "date": 8, "utc": true},
        {"year": 2023, "month": 7, "date": 15, "utc": true},
        {"year": 2023, "month": 7, "date": 22, "utc": true},
        {"year": 2023, "month": 8, "date": 1, "utc": true},
        {"year": 2023, "month": 8, "date": 8, "utc": true},
        {"year": 2023, "month": 8, "date": 15, "utc": true},
        {"year": 2023, "month": 8, "date": 22, "utc": true},
        {"year": 2023, "month": 9, "date": 1, "utc": true},
        {"year": 2023, "month": 9, "date": 8, "utc": true}]}}
  },
  "layer": [
    {"mark": {"type": "rule", "color": "green", "opacity": 0.5, "strokeWidth": 1.6, "clip": true},
     "encoding": {
       "y": {"field": "lo", "type": "quantitative", "title": "Velocity [m/s]", "scale": {"domain": [31957.9, 32358.4], "nice": false, "zero": false}, "axis": {"values": [32000, 32100, 32200, 32300], "format": "d"}},
       "y2": {"field": "hi"}}},
    {"mark": {"type": "point", "filled": true, "size": 60, "opacity": 0.5, "stroke": "green", "strokeWidth": 1, "clip": true},
     "encoding": {
       "y": {"field": "vel", "type": "quantitative", "title": "Velocity [m/s]"},
       "color": {"datum": "Good", "scale": {"domain": ["Good"], "range": ["green"]},
         "legend": {"title": null, "symbolType": "circle", "symbolSize": 30, "symbolOpacity": 0.5, "symbolFillColor": "green", "symbolStrokeWidth": 0, "symbolOffset": 8, "labelOffset": 21}}}}
  ]
},
{
  "width": 1068, "height": 235,
  "data": {"name": "ccf"},
  "encoding": {
    "x": {"field": "rv", "type": "quantitative", "title": "RV [km/s]", "scale": {"domain": [-14.78, 79.07], "nice": false, "zero": false}, "axis": {"values": [0, 20, 40, 60], "format": "d"}}
  },
  "layer": [
    {"mark": {"type": "area", "color": "#FED785", "stroke": "#FDC45A", "strokeWidth": 1, "interpolate": "monotone"},
     "encoding": {"y": {"field": "cl2", "type": "quantitative", "title": "Normalized CCF", "scale": {"domain": [0.96581, 1.01566], "nice": false, "zero": false}, "axis": {"values": [0.97, 0.98, 0.99, 1.0, 1.01], "format": ".2f"}}, "y2": {"field": "ch2"}}},
    {"mark": {"type": "area", "color": "#FF8350", "stroke": "#FF6A40", "strokeWidth": 1, "interpolate": "monotone"},
     "encoding": {"y": {"field": "cl1", "type": "quantitative", "title": "Normalized CCF"}, "y2": {"field": "ch1"}}},
    {"mark": {"type": "line", "color": "black", "strokeWidth": 2, "interpolate": "monotone"},
     "encoding": {"y": {"field": "ccf", "type": "quantitative", "title": "Normalized CCF"}}},
    {"mark": {"type": "line", "strokeWidth": 1.8, "strokeDash": [6, 3], "interpolate": "monotone"},
     "encoding": {"y": {"field": "fit", "type": "quantitative", "title": "Normalized CCF"},
       "color": {"datum": "Gaussian fit", "scale": {"domain": ["Gaussian fit"], "range": ["#3d8bc4"]},
         "legend": {"title": null, "symbolType": "M-2,0H2", "symbolSize": 196, "symbolStrokeColor": "#3d8bc4", "symbolStrokeWidth": 1.8, "symbolDash": [6, 3], "symbolOffset": 10, "labelOffset": 19}}}}
  ]
},
{
  "width": 1068, "height": 235,
  "layer": [
    {"data": {"name": "ccf"}, "mark": {"type": "area", "color": "#FED785", "stroke": "#FDC45A", "strokeWidth": 1, "interpolate": "monotone"},
     "encoding": {
       "x": {"field": "rv", "type": "quantitative", "title": "RV [km/s]", "scale": {"domain": [-14.78, 79.07], "nice": false, "zero": false}, "axis": {"values": [0, 20, 40, 60], "format": "d"}},
       "y": {"field": "rl2", "type": "quantitative", "title": "Residuals [to fit]", "scale": {"domain": [-0.00606, 0.01484], "nice": false, "zero": false}, "axis": {"values": [-0.005, 0.0, 0.005, 0.01], "format": ".3f"}}, "y2": {"field": "rh2"}}},
    {"data": {"name": "ccf"}, "mark": {"type": "area", "color": "#FF8350", "stroke": "#FF6A40", "strokeWidth": 1, "interpolate": "monotone"},
     "encoding": {"x": {"field": "rv", "type": "quantitative", "title": "RV [km/s]"}, "y": {"field": "rl1", "type": "quantitative", "title": "Residuals [to fit]"}, "y2": {"field": "rh1"}}},
    {"data": {"name": "ccf"}, "mark": {"type": "line", "color": "#3f80b8", "strokeWidth": 2, "interpolate": "monotone"},
     "encoding": {"x": {"field": "rv", "type": "quantitative", "title": "RV [km/s]"}, "y": {"field": "res", "type": "quantitative", "title": "Residuals [to fit]"}}},
    {"data": {"name": "bands"}, "mark": {"type": "point", "filled": true, "clip": true},
     "encoding": {
       "x": {"datum": -1000, "type": "quantitative"},
       "y": {"datum": 0, "type": "quantitative"},
       "color": {"field": "item", "type": "nominal", "scale": {"domain": ["2-σ", "1-σ", "Median residual"], "range": ["#FFDB99", "#FF9999", "#3f80b8"]},
         "legend": {"title": null, "direction": "horizontal", "symbolSize": 196, "symbolOffset": 7, "labelOffset": 19, "columnPadding": 27, "symbolOpacity": 1,
           "symbolType": {"expr": "datum.value === 'Median residual' ? 'M-2,-0.11H2V0.11H-2Z' : 'M-2,-0.72H2V0.72H-2Z'"},
           "symbolStrokeColor": {"expr": "datum.value === '2-σ' ? '#FDBF50' : datum.value === '1-σ' ? '#FF6A5A' : '#3f80b8'"},
           "symbolStrokeWidth": 1}}}}
  ]
},
{
  "width": 1068, "height": 235,
  "layer": [
    {"data": {"name": "ccf"}, "mark": {"type": "area", "color": "#FED785", "stroke": "#FDC45A", "strokeWidth": 1, "interpolate": "monotone"},
     "encoding": {
       "x": {"field": "rv", "type": "quantitative", "title": "RV [km/s]", "scale": {"domain": [-14.78, 79.07], "nice": false, "zero": false}, "axis": {"values": [0, 20, 40, 60], "format": "d"}},
       "y": {"field": "dl2", "type": "quantitative", "title": "Residuals [To Median]", "scale": {"domain": [-0.00534, 0.00427], "nice": false, "zero": false}, "axis": {"values": [-0.004, -0.002, 0.0, 0.002, 0.004], "format": ".3f"}}, "y2": {"field": "dh2"}}},
    {"data": {"name": "ccf"}, "mark": {"type": "area", "color": "#FF8350", "stroke": "#FF6A40", "strokeWidth": 1, "interpolate": "monotone"},
     "encoding": {"x": {"field": "rv", "type": "quantitative", "title": "RV [km/s]"}, "y": {"field": "dl1", "type": "quantitative", "title": "Residuals [To Median]"}, "y2": {"field": "dh1"}}},
    {"data": {"name": "ccf"}, "mark": {"type": "line", "color": "#3f80b8", "strokeWidth": 2},
     "encoding": {"x": {"field": "rv", "type": "quantitative", "title": "RV [km/s]"}, "y": {"datum": 0, "type": "quantitative"}}},
    {"data": {"name": "bands"}, "mark": {"type": "point", "filled": true, "clip": true},
     "encoding": {
       "x": {"datum": -1000, "type": "quantitative"},
       "y": {"datum": 0, "type": "quantitative"},
       "color": {"field": "item", "type": "nominal", "scale": {"domain": ["2-σ", "1-σ", "Median residual"], "range": ["#FFDB99", "#FF9999", "#3f80b8"]},
         "legend": {"title": null, "direction": "horizontal", "symbolSize": 196, "symbolOffset": 7, "labelOffset": 19, "columnPadding": 27, "symbolOpacity": 1,
           "symbolType": {"expr": "datum.value === 'Median residual' ? 'M-2,-0.11H2V0.11H-2Z' : 'M-2,-0.72H2V0.72H-2Z'"},
           "symbolStrokeColor": {"expr": "datum.value === '2-σ' ? '#FDBF50' : datum.value === '1-σ' ? '#FF6A5A' : '#3f80b8'"},
           "symbolStrokeWidth": 1}}}}
  ]
}
]
}
